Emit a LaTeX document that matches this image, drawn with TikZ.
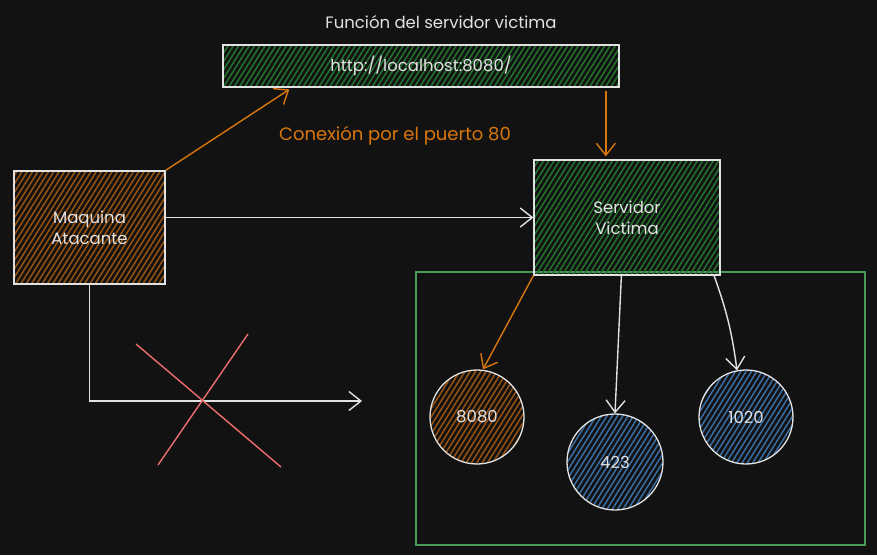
\documentclass[tikz,border=0pt]{standalone}
\usepackage{fontspec}
\setmainfont{Poppins}
\usetikzlibrary{arrows.meta, positioning, calc, patterns.meta, shapes.geometric}
\definecolor{bgdark}{HTML}{121212}
\definecolor{sketchwhite}{HTML}{E2E2E2}
\definecolor{hatchgreen}{HTML}{24742F}
\definecolor{hatchbrown}{HTML}{9A530F}
\definecolor{hatchblue}{HTML}{3A6EA6}
\definecolor{linkorange}{HTML}{D9770E}
\definecolor{framegreen}{HTML}{4C9A57}
\definecolor{crossred}{HTML}{EE6E6E}

\begin{document}
\begin{tikzpicture}[x=1pt, y=-1pt,
	labeltext/.style={text=sketchwhite, font=\fontsize{16.5}{21}\selectfont, align=center},
	hatchbox/.style={draw=sketchwhite, line width=1.3pt, inner sep=0pt, labeltext,
		pattern={Lines[angle=58, distance=4.5pt, line width=1.5pt]}},
	portnode/.style={hatchbox, circle, minimum size=94pt},
	whitelink/.style={draw=sketchwhite, line width=1.4pt, -{Straight Barb[length=12pt, width=19pt, line width=1.4pt]}},
	orangelink/.style={whitelink, draw=linkorange},
	]
	
	% Background
	\fill[bgdark] (0,0) rectangle (877,555);
	\useasboundingbox (0,0) rectangle (877,555);
	
	% Title and URL bar
	\node[labeltext] (title) at (441,22) {Función del servidor victima};
	\node[hatchbox, pattern color=hatchgreen, minimum width=396pt, minimum height=42pt] (url) at (421,66) {http://localhost:8080/};
	
	% Port frame
	\draw[framegreen, line width=1.3pt] (416,272) rectangle (865,545);
	
	% Machines
	\node[hatchbox, pattern color=hatchbrown, minimum width=151pt, minimum height=113pt] (attacker) at (89.5,227.5) {Maquina\\Atacante};
	\node[hatchbox, pattern color=hatchgreen, minimum width=186pt, minimum height=115pt] (server) at (627,217.5) {Servidor\\Victima};
	
	% Ports
	\node[portnode, pattern color=hatchbrown] (port8080) at (477,417) {8080};
	\node[portnode, pattern color=hatchblue, minimum size=96pt] (port423) at (615,462) {423};
	\node[portnode, pattern color=hatchblue] (port1020) at (746,417) {1020};
	
	% Connection through port 80
	\coordinate (urlin) at ($(url.south west)!0.175!(url.south east)$);
	\coordinate (urlout) at ($(url.south west)!0.965!(url.south east)$);
	\draw[orangelink, shorten >=3pt] (attacker.north east) -- (urlin);
	\node[text=linkorange, font=\fontsize{18}{22}\selectfont] (portlabel) at (395,136) {Conexión por el puerto 80};
	\draw[orangelink, shorten <=3pt, shorten >=3pt] (urlout) -- (urlout |- server.north);
	
	% Direct link
	\draw[whitelink] (server.west -| attacker.east) -- (server.west);
	
	% Blocked path
	\coordinate (blockend) at (362,401);
	\draw[whitelink] (attacker.south) |- (blockend);
	\draw[crossred, line width=1.4pt] (136,344) -- (281,467);
	\draw[crossred, line width=1.4pt] (248,334) -- (158,465);
	
	% Server to ports
	\draw[orangelink] (server.south west) -- ($(port8080.north)+(6,0)$);
	\draw[whitelink] ($(server.south west)!0.47!(server.south east)$) -- (port423.north);
	\draw[whitelink] ($(server.south west)!0.965!(server.south east)$) to[bend left=6] ($(port1020.north)+(-9,1)$);
	
\end{tikzpicture}
\end{document}
